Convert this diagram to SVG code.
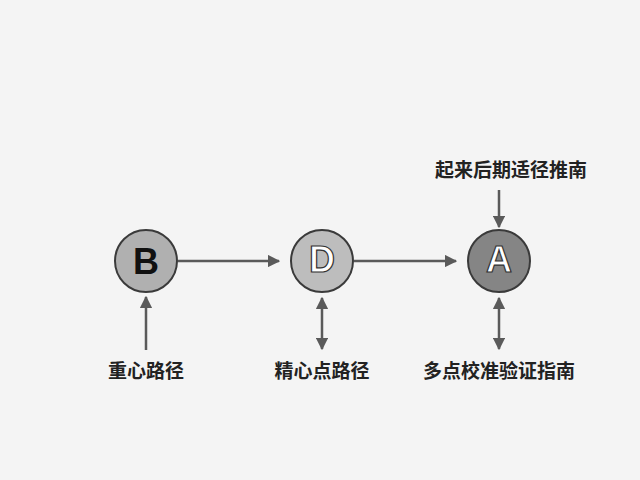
<svg xmlns="http://www.w3.org/2000/svg" width="640" height="480" viewBox="0 0 640 480">
<style>
.c{stroke:#3a3a3a;stroke-width:2}
.l{stroke:#5a5a5a;stroke-width:2.5;fill:none}
.t{font-family:"Noto Sans CJK SC",sans-serif;font-size:19px;font-weight:bold;fill:#222;text-anchor:middle}
.n{font-family:"Liberation Sans",sans-serif;font-size:36px;font-weight:bold;text-anchor:middle}
</style>
<defs><marker id="a" viewBox="0 0 10 10" refX="9" refY="5" markerWidth="5" markerHeight="5" orient="auto-start-reverse"><path d="M0,0L10,5L0,10z" fill="#5a5a5a"/></marker></defs>
<rect width="640" height="480" fill="#f4f4f4"/>
<g id="connectors">
<line class="l" x1="178" y1="261" x2="279" y2="261" marker-end="url(#a)"/>
<line class="l" x1="354" y1="261" x2="456" y2="261" marker-end="url(#a)"/>
<line class="l" x1="499" y1="190" x2="499" y2="227" marker-end="url(#a)"/>
<line class="l" x1="146" y1="350" x2="146" y2="297" marker-end="url(#a)"/>
<line class="l" x1="322" y1="298" x2="322" y2="349" marker-start="url(#a)" marker-end="url(#a)"/>
<line class="l" x1="499" y1="298" x2="499" y2="349" marker-start="url(#a)" marker-end="url(#a)"/>
</g>
<g id="B"><circle class="c" cx="146" cy="261" r="31" fill="#b0b0b0"/><text class="n" x="146" y="274" fill="#111">B</text></g>
<g id="D"><circle class="c" cx="322" cy="261" r="31" fill="#bdbdbd"/><text class="n" x="322" y="272" fill="#fff" stroke="#333" stroke-width="1.2" font-size="30">D</text></g>
<g id="A"><circle class="c" cx="499" cy="261" r="31" fill="#858585"/><text class="n" x="499" y="272" fill="#fff" stroke="#333" stroke-width="1.2" font-size="30">A</text></g>
<g id="labels">
<text class="t" x="146" y="378">重心路径</text>
<text class="t" x="322" y="378">精心点路径</text>
<text class="t" x="499" y="378">多点校准验证指南</text>
<text class="t" x="511" y="177">起来后期适径推南</text>
</g>
</svg>
